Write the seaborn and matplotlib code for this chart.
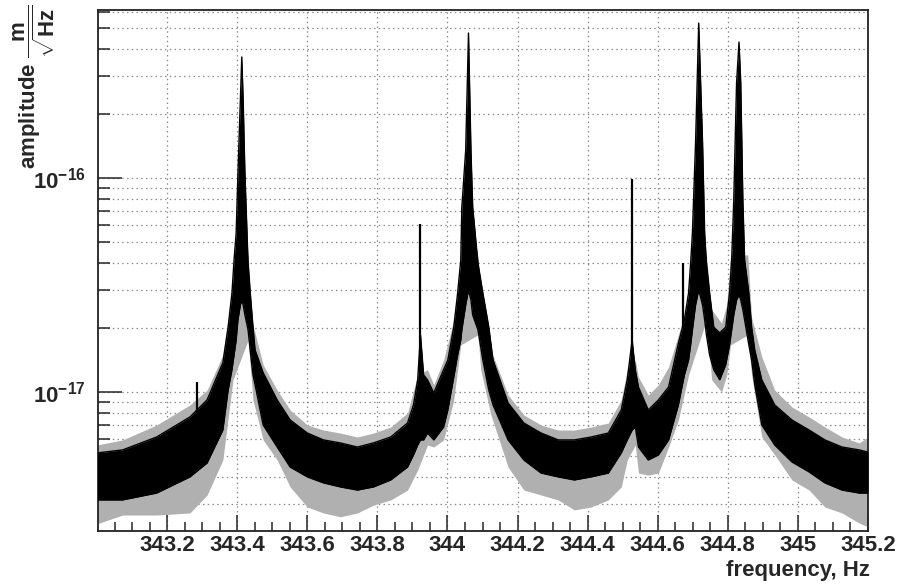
import numpy as np
import pandas as pd
import matplotlib
matplotlib.use("Agg")
import matplotlib.pyplot as plt
import matplotlib.ticker as mticker
import seaborn as sns

# ---------------- data (amplitudes in units of 1e-18 m/sqrt(Hz)) ----------------
freq_core = [343.000, 343.073, 343.170, 343.265, 343.314, 343.359, 343.374, 343.385, 343.391, 343.397,
             343.402, 343.409, 343.413, 343.417, 343.422, 343.428, 343.431, 343.437, 343.445, 343.451,
             343.474, 343.514, 343.551, 343.600, 343.646, 343.694, 343.743, 343.789, 343.838, 343.886,
             343.903, 343.915, 343.923, 343.932, 343.943, 343.961, 343.989, 344.001, 344.018, 344.029,
             344.038, 344.041, 344.052, 344.060, 344.067, 344.072, 344.087, 344.101, 344.118, 344.130,
             344.173, 344.218, 344.267, 344.316, 344.362, 344.410, 344.459, 344.496, 344.513, 344.527,
             344.536, 344.545, 344.573, 344.602, 344.631, 344.659, 344.676, 344.688, 344.694, 344.699,
             344.708, 344.717, 344.728, 344.734, 344.739, 344.748, 344.760, 344.777, 344.794, 344.805,
             344.811, 344.817, 344.825, 344.832, 344.837, 344.843, 344.848, 344.860, 344.868, 344.877,
             344.897, 344.934, 344.983, 345.032, 345.077, 345.126, 345.175, 345.200]
upper_core = [5.19, 5.36, 6.16, 7.64, 9.18, 13.7, 20.1, 29.0, 41.4, 55.3,
              105, 231, 368, 231, 105, 55.3, 40.1, 29.0, 20.1, 15.7,
              12.3, 9.18, 7.40, 6.43, 5.97, 5.78, 5.53, 5.78, 6.16, 7.16,
              8.70, 11.4, 18.5, 12.0, 11.4, 9.9, 12.7, 14.1, 20.1, 29.0,
              41.4, 73.2, 135, 476, 135, 73.2, 40.1, 29.0, 20.1, 14.1,
              8.88, 7.16, 6.43, 5.97, 5.97, 6.16, 6.43, 8.24, 11.4, 17.5,
              12.7, 10.55, 8.24, 9.18, 10.55, 16.9, 21.7, 29.0, 40.1, 55.3,
              146, 530, 146, 55.3, 40.1, 29.0, 20.1, 18.9, 20.1, 29.0,
              41.4, 78.9, 278, 432, 278, 78.9, 41.4, 29.0, 20.1, 15.7,
              11.4, 8.70, 7.40, 6.64, 5.97, 5.53, 5.36, 5.24]
lower_core = [3.13, 3.13, 3.37, 4.01, 4.66, 6.64, 10.2, 12.7, 14.9, 17.5,
              21.7, 25.5, 26.9, 25.5, 22.9, 20.6, 19.5, 15.7, 12.0, 10.8,
              7.01, 5.53, 4.46, 4.01, 3.76, 3.60, 3.48, 3.60, 3.88, 4.46,
              5.08, 5.65, 5.97, 5.97, 6.43, 5.97, 6.86, 8.24, 11.75, 14.9,
              17.5, 19.5, 25.5, 30.0, 26.9, 22.9, 19.5, 14.1, 10.2, 8.70,
              5.97, 4.81, 4.18, 4.01, 3.88, 4.01, 4.18, 5.19, 5.97, 6.64,
              6.86, 5.53, 4.81, 5.08, 5.97, 8.70, 12.0, 14.1, 16.6, 19.5,
              25.5, 30.0, 25.5, 21.7, 18.5, 14.9, 12.7, 11.4, 13.4, 16.6,
              19.5, 22.9, 26.9, 28.4, 26.9, 24.2, 21.7, 16.6, 14.1, 10.8,
              7.01, 5.65, 4.71, 4.23, 3.76, 3.48, 3.37, 3.37]

freq_outer = [343.000, 343.073, 343.170, 343.265, 343.314, 343.359, 343.388, 343.431, 343.445, 343.474,
              343.514, 343.551, 343.600, 343.646, 343.694, 343.743, 343.789, 343.838, 343.886, 343.915,
              343.943, 343.961, 343.989, 344.018, 344.038, 344.087, 344.095, 344.124, 344.173, 344.218,
              344.267, 344.316, 344.362, 344.410, 344.459, 344.496, 344.513, 344.536, 344.545, 344.573,
              344.602, 344.631, 344.659, 344.688, 344.739, 344.754, 344.782, 344.797, 344.808, 344.857,
              344.868, 344.897, 344.934, 344.983, 345.032, 345.077, 345.126, 345.175, 345.200]
upper_outer = [5.65, 5.97, 7.01, 8.70, 10.2, 14.9, 31.6, 43.7, 20.6, 13.4,
               10.2, 8.24, 7.01, 6.64, 6.43, 6.16, 6.43, 6.86, 7.98, 12.0,
               12.7, 10.8, 14.1, 21.7, 37.2, 43.7, 28.4, 15.7, 9.68, 7.81,
               7.01, 6.64, 6.64, 6.86, 7.16, 9.18, 12.7, 14.1, 11.75, 9.68,
               10.8, 13.1, 18.5, 26.9, 43.7, 24.2, 21.0, 25.5, 43.7, 43.7,
               22.2, 14.6, 10.2, 8.51, 7.64, 6.86, 6.16, 5.78, 6.16]
lower_outer = [2.42, 2.66, 2.66, 2.72, 3.30, 4.81, 11.4, 17.5, 9.18, 5.97,
               4.81, 3.60, 2.90, 2.72, 2.61, 2.72, 2.96, 3.13, 3.48, 4.32,
               5.65, 5.53, 5.97, 9.18, 16.6, 18.5, 12.7, 7.81, 4.46, 3.48,
               3.30, 3.13, 2.81, 2.90, 3.13, 3.60, 4.81, 5.65, 4.18, 4.09,
               4.18, 5.53, 7.40, 12.0, 21.7, 11.4, 10.0, 12.0, 16.6, 18.5,
               12.0, 6.16, 5.08, 3.88, 3.48, 2.90, 2.72, 2.44, 2.34]

spike_freq = [343.285, 343.923, 344.527, 344.673]
spike_base = [7.64, 12.0, 12.7, 20.0]
spike_top = [11.1, 61.0, 98.9, 40.1]

UNIT = 1e-18
x_major = [343.2, 343.4, 343.6, 343.8, 344.0, 344.2, 344.4, 344.6, 344.8, 345.0, 345.2]
y_major = [1e-17, 1e-16]
y_minor = [3e-18, 4e-18, 5e-18, 6e-18, 7e-18, 8e-18, 9e-18,
           2e-17, 3e-17, 4e-17, 5e-17, 6e-17, 7e-17, 8e-17, 9e-17,
           2e-16, 3e-16, 4e-16, 5e-16, 6e-16]

# ---------------- style ----------------
sns.set_style("white")
plt.rcParams["font.family"] = ["Liberation Sans", "DejaVu Sans"]
plt.rcParams["font.weight"] = "bold"
plt.rcParams["mathtext.fontset"] = "custom"
plt.rcParams["mathtext.rm"] = "Liberation Sans:bold"
plt.rcParams["mathtext.it"] = "Liberation Sans:bold:italic"
plt.rcParams["mathtext.bf"] = "Liberation Sans:bold"
plt.rcParams["mathtext.default"] = "rm"

FS = 16

fig = plt.figure(figsize=(9, 5.87), dpi=100)
ax = fig.add_axes([0.109, 0.0954, 0.8554, 0.8876])

core = pd.DataFrame({"f": freq_core,
                     "hi": np.array(upper_core) * UNIT,
                     "lo": np.array(lower_core) * UNIT})
outer = pd.DataFrame({"f": freq_outer,
                      "hi": np.array(upper_outer) * UNIT,
                      "lo": np.array(lower_outer) * UNIT})

ax.set_yscale("log")
ax.fill_between(outer["f"], outer["lo"], outer["hi"], color="#b0b0b0", lw=0, zorder=2)
ax.fill_between(core["f"], core["lo"], core["hi"], color="black", lw=0, zorder=3)
sns.lineplot(data=core, x="f", y="hi", ax=ax, color="black", lw=1.0, zorder=4, sort=False)
sns.lineplot(data=core, x="f", y="lo", ax=ax, color="black", lw=1.0, zorder=4, sort=False)
ax.vlines(spike_freq, np.array(spike_base) * UNIT, np.array(spike_top) * UNIT,
          color="black", lw=1.6, zorder=5)

ax.set_xlim(343.003, 345.2)
ax.set_ylim(2.24e-18, 6.1e-16)

ax.xaxis.set_major_locator(mticker.FixedLocator(x_major))
ax.xaxis.set_minor_locator(mticker.MultipleLocator(0.05))
ax.xaxis.set_major_formatter(mticker.FuncFormatter(lambda v, p: "%g" % round(v, 3)))
ax.yaxis.set_major_locator(mticker.FixedLocator(y_major))
ax.yaxis.set_minor_locator(mticker.FixedLocator(y_minor))
ax.yaxis.set_major_formatter(mticker.FuncFormatter(
    lambda v, p: r"$10^{%d}$" % int(round(np.log10(v)))))
ax.yaxis.set_minor_formatter(mticker.NullFormatter())
ax.xaxis.get_offset_text().set_visible(False)
ax.yaxis.get_offset_text().set_visible(False)

grid_kw = dict(color="#8c8c8c", lw=0.9, linestyle=(0, (1.2, 2.6)))
ax.grid(True, which="major", axis="x", **grid_kw)
ax.grid(True, which="both", axis="y", **grid_kw)
ax.set_axisbelow(True)

ax.tick_params(axis="y", which="major", direction="in", length=17, width=1.1,
               labelsize=FS, pad=9, left=True, right=False)
ax.tick_params(axis="y", which="minor", direction="in", length=8.5, width=1.1,
               left=True, right=False)
ax.tick_params(axis="x", which="major", direction="in", length=11.5, width=1.1,
               labelsize=FS, pad=3, bottom=True, top=False)
ax.tick_params(axis="x", which="minor", direction="in", length=6.5, width=1.1,
               bottom=True, top=False)

for s in ax.spines.values():
    s.set_visible(True)
    s.set_color("#222222")
    s.set_linewidth(1.3)

ax.set_xlabel("frequency, Hz", fontsize=FS, fontweight="bold", loc="right")
ax.xaxis.label.set(ha="right", va="top")
ax.xaxis.set_label_coords(1.003, -0.056)

ax.set_ylabel(r"amplitude $\dfrac{m}{\sqrt{Hz}}$", fontsize=FS, fontweight="bold")
ax.yaxis.label.set(rotation_mode="default", ha="center", va="top")
ax.yaxis.set_label_coords(-0.0825, 1.0096)

fig.savefig("out.png", dpi=100)
